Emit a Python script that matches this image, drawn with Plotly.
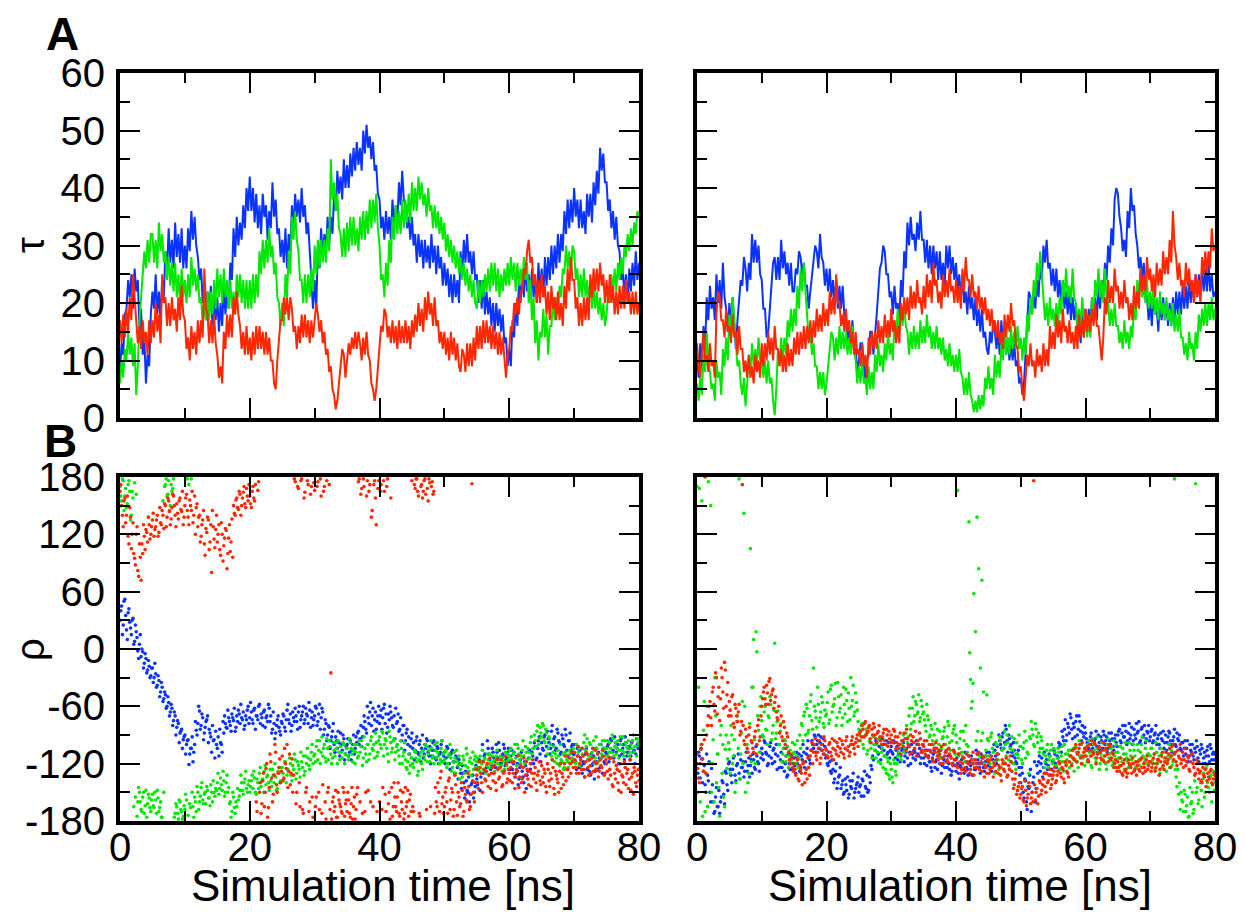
import numpy as np
import plotly.graph_objects as go

# ================= tau (top panels), sampled every 0.25 ns =================
tl_blue = [8,13,11,18,19,24,21,25,19,26,22,24,15,19,11,14,6,11,9,18,
           22,19,25,18,22,17,24,21,29,26,33,27,31,26,34,28,32,27,33,26,
           30,26,33,29,36,31,35,30,28,24,26,20,23,17,22,18,23,16,21,17,
           21,15,20,16,23,18,22,19,27,24,33,28,35,30,34,31,37,33,40,36,
           42,36,40,34,39,33,37,32,39,35,37,31,36,33,41,35,38,32,33,28,
           31,27,33,26,32,29,37,33,39,35,38,34,40,35,37,32,34,29,25,19,
           24,19,30,26,33,28,32,29,35,30,35,32,39,36,43,39,42,38,45,40,
           44,40,46,42,47,43,48,44,47,43,50,46,51,47,49,45,48,43,44,39,
           38,33,35,31,36,32,35,31,38,33,37,34,41,37,43,38,37,33,35,31,
           35,30,32,27,32,28,31,26,31,27,30,26,32,27,30,25,30,26,28,23,
           27,23,26,21,25,20,25,21,24,20,29,25,31,27,32,27,29,25,29,24,
           25,20,24,19,24,18,22,18,21,16,20,15,20,16,19,15,18,13,14,9,
           12,9,17,14,20,16,24,20,25,21,27,22,25,21,26,21,24,20,27,22,
           26,21,28,23,28,24,30,25,30,26,32,27,32,29,36,32,38,33,38,34,
           40,35,38,33,38,33,36,32,39,35,39,34,41,37,43,39,47,43,46,41,
           41,36,38,33,36,31,35,30,29,24,26,21,25,20,26,22,27,23,29,24,
           27]
tl_green = [6,10,7,12,10,15,11,14,9,13,4,9,17,22,25,29,26,31,27,32,
            32,27,31,26,34,29,32,27,29,24,28,23,27,22,27,21,25,20,26,21,
            24,20,25,21,28,23,26,22,25,20,21,16,21,17,22,17,22,18,24,19,
            26,21,25,20,26,21,24,19,24,19,22,18,25,21,25,20,24,19,24,19,
            24,19,25,20,25,21,29,25,31,26,31,27,33,28,30,25,27,21,20,16,
            20,16,25,21,29,25,35,31,36,31,29,24,24,20,25,20,25,21,26,22,
            30,25,31,26,31,27,31,27,33,29,45,38,41,36,39,33,32,28,33,28,
            34,29,35,30,35,30,33,29,35,31,36,31,36,32,38,33,38,34,39,33,
            30,24,25,21,27,23,31,27,35,31,37,32,36,32,38,33,38,34,39,34,
            41,36,40,36,42,38,41,37,39,35,40,36,37,33,37,33,36,32,35,31,
            34,29,32,28,31,27,30,26,29,25,28,24,27,23,26,22,25,21,24,20,
            19,24,20,24,21,25,22,26,22,27,23,27,22,26,21,25,22,26,23,27,
            23,28,24,27,22,27,23,26,23,28,24,27,20,24,17,21,13,17,10,15,
            14,19,14,18,11,16,16,21,17,21,18,23,21,26,25,30,26,29,25,30,
            29,24,26,21,25,21,26,21,24,20,24,19,23,19,22,18,21,17,20,16,
            18,22,20,25,22,26,22,27,24,28,25,30,28,32,29,33,30,34,32,36,
            35]
tl_red = [17,13,18,14,19,15,21,17,25,20,17,13,16,12,17,13,15,11,17,13,
          17,14,20,15,18,13,25,20,21,16,20,16,21,17,19,15,21,17,23,18,
          17,12,14,10,16,12,15,11,17,13,17,14,26,19,18,13,17,13,18,13,
          11,7,9,6,15,12,18,14,18,14,21,18,22,18,16,12,15,11,16,11,
          14,10,15,11,16,12,16,12,15,11,15,11,14,10,10,6,5,10,14,17,
          17,21,18,21,17,21,19,15,16,12,16,13,18,14,18,14,17,13,17,14,
          17,20,18,15,17,13,15,11,12,8,9,5,4,1.5,3,6,9,12,11,7,
          10,13,11,14,12,15,12,15,13,10,14,11,15,11,10,6,5,3,5,9,
          13,16,15,19,18,14,16,13,17,13,16,12,17,13,16,13,17,13,16,12,
          17,14,18,15,20,16,19,15,21,17,22,18,20,16,21,16,17,13,15,12,
          15,11,14,10,15,11,14,10,13,9,8,12,11,8,13,9,13,9,14,10,
          16,12,16,12,17,13,17,13,16,12,16,12,15,11,15,11,14,10,7,11,
          12,16,15,20,18,21,18,22,22,26,25,29,31,27,28,23,25,20,24,20,
          25,21,23,18,22,17,23,19,21,17,22,17,20,16,23,19,26,22,28,24,
          24,19,21,16,20,16,21,17,21,17,25,21,26,22,26,22,27,23,25,20,
          24,20,25,20,23,18,22,18,23,19,23,19,24,20,22,18,22,18,22,18,
          20]
tr_blue = [11,7,13,9,16,12,21,17,23,19,21,17,25,20,24,19,27,21,19,15,
           20,16,21,16,12,17,20,24,23,28,26,22,27,24,32,27,31,27,30,25,
           24,19,19,14,15,19,23,27,28,24,28,24,31,26,29,25,27,23,27,22,
           22,26,25,29,28,25,27,23,23,19,22,25,27,30,29,26,32,28,27,23,
           26,22,26,21,24,20,24,19,23,19,23,18,17,13,16,12,17,12,12,8,
           10,13,13,9,6,10,11,15,15,11,14,18,22,26,27,30,29,25,25,21,
           22,18,23,19,20,17,24,21,29,26,34,30,35,31,32,29,34,31,36,31,
           31,27,31,26,30,25,30,26,29,24,29,24,27,23,30,26,30,25,28,24,
           27,22,25,21,25,20,22,18,23,19,21,17,21,16,19,15,19,14,15,12,
           11,15,13,17,15,12,15,11,17,13,14,11,14,10,13,10,13,9,10,6,
           7,4,6,12,18,22,21,18,22,19,24,21,27,24,30,27,31,26,27,23,
           26,22,26,21,24,20,24,19,22,18,22,17,21,17,20,15,17,13,18,14,
           19,15,19,16,21,17,21,17,23,19,24,21,27,24,30,27,33,30,38,40,
           39,35,33,29,31,28,36,33,40,36,37,32,30,26,28,24,27,22,21,17,
           20,16,22,18,19,15,21,17,21,17,20,16,20,16,21,17,22,18,22,18,
           23,19,23,19,24,20,24,20,25,21,25,21,26,22,26,22,27,22,25,21,
           22]
tr_green = [6,3,7,4,11,8,15,10,8,5,6,3,10,7,8,4,12,9,14,10,
            18,14,21,16,13,9,10,6,4,7,2,6,11,8,13,9,12,9,14,10,
            11,7,10,6,10,6,7,3,0.5,5,12,9,14,10,14,11,17,14,19,15,
            19,16,23,19,26,22,27,22,18,14,15,11,13,9,9,5,8,5,8,4,
            6,9,12,15,14,10,14,11,16,12,15,12,15,11,14,11,16,12,10,6,
            9,6,10,6,7,4,9,5,8,5,11,8,13,9,11,8,13,10,15,11,
            13,10,17,14,19,15,19,16,20,16,15,11,15,12,16,12,15,12,17,13,
            16,13,18,14,16,12,15,12,16,12,14,11,14,10,12,9,13,9,11,8,
            11,8,12,8,7,4,7,4,8,4,3,1,3,1,4,1.5,4,2,7,5,
            9,5,7,4,11,7,10,7,13,10,15,11,14,11,16,12,15,12,16,12,
            14,10,14,11,18,15,21,18,24,21,27,24,29,24,21,17,20,16,21,17,
            19,16,20,16,21,18,24,21,26,21,23,20,26,21,20,16,19,16,21,17,
            18,14,17,14,21,18,24,21,26,21,24,20,26,21,20,16,19,16,20,16,
            16,13,15,12,17,13,15,12,16,14,20,17,24,21,26,21,23,20,24,19,
            22,19,23,18,21,17,22,18,20,17,21,17,19,16,20,15,18,15,19,14,
            14,11,13,10,15,12,13,10,15,12,18,15,19,16,20,16,20,17,21,17,
            19]
tr_red = [13,9,7,12,15,10,11,8,13,9,10,7,18,22,21,17,17,14,19,15,
          16,13,18,14,15,11,16,12,12,8,10,7,11,7,9,6,11,8,10,7,
          13,9,13,10,15,11,14,10,16,12,12,9,12,8,11,8,13,9,12,9,
          14,11,15,11,15,12,16,12,16,13,17,13,17,14,19,15,18,15,20,16,
          19,16,22,18,21,18,25,20,20,16,18,15,19,15,17,13,15,11,15,11,
          12,9,13,9,11,7,14,11,15,12,15,12,17,13,16,13,18,14,17,14,
          19,15,17,13,16,13,20,17,21,18,21,17,23,19,22,19,24,20,21,18,
          23,19,25,21,24,20,27,23,24,20,22,19,25,21,24,21,26,22,23,20,
          24,20,23,19,26,22,28,24,24,21,25,21,22,19,23,19,21,18,21,17,
          19,16,19,15,17,14,17,13,15,12,18,14,18,15,20,16,17,13,12,8,
          9,5,3,7,11,9,13,9,10,7,12,9,11,8,13,9,12,9,16,12,
          15,12,18,14,17,13,19,15,16,13,17,13,15,12,16,12,18,14,17,14,
          19,15,18,15,19,16,20,16,16,13,10,14,21,18,24,20,23,20,26,22,
          23,19,22,19,24,20,21,17,20,17,23,19,22,19,26,22,25,22,28,24,
          26,22,25,21,27,23,26,23,29,25,28,25,31,27,36,30,28,24,27,23,
          24,21,27,23,26,22,24,20,25,21,24,20,28,25,29,25,29,26,33,29,
          30]

# ================= rho (bottom panels) =================
# set "a": t = 0, 0.25, ... 80 ; set "b": t = 0.125, 0.375, ... 79.875
bl_blue_a = [30,45,25,52,20,38,28,15,32,8,18,-2,5,-8,-3,-15,-10,-22,-18,-28,
             -20,-30,-26,-38,-33,-45,-40,-52,-48,-60,-56,-66,-62,-75,-70,-82,-78,-88,-84,-95,
             -90,-100,-95,-110,-104,-118,-100,-85,-78,-65,-80,-72,-88,-76,-70,-84,-92,-80,-95,-86,
             -104,-112,-98,-108,-88,-78,-83,-72,-80,-68,-75,-86,-70,-64,-78,-72,-66,-80,-74,-60,
             -72,-66,-78,-62,-70,-74,-58,-68,-80,-64,-72,-76,-62,-70,-84,-78,-88,-74,-82,-90,
             -78,-70,-86,-64,-74,-68,-80,-72,-62,-76,-66,-82,-70,-60,-74,-68,-78,-64,-72,-80,
             -70,-62,-76,-58,-72,-66,-84,-78,-90,-82,-96,-86,-100,-92,-104,-98,-88,-106,-94,-110,
             -100,-112,-96,-106,-90,-104,-98,-86,-94,-102,-82,-76,-88,-72,-66,-80,-62,-74,-84,-70,
             -78,-64,-72,-58,-68,-82,-74,-66,-80,-70,-62,-76,-86,-72,-90,-80,-96,-84,-92,-102,
             -88,-98,-106,-92,-110,-96,-104,-114,-100,-94,-108,-102,-112,-98,-106,-116,-104,-110,-100,-118,
             -108,-114,-104,-120,-110,-106,-118,-112,-124,-116,-130,-122,-140,-128,-148,-134,-152,-140,-156,-144,
             -136,-126,-148,-118,-130,-110,-124,-104,-116,-122,-108,-118,-100,-114,-106,-120,-110,-104,-116,-108,
             -118,-112,-126,-108,-130,-120,-136,-116,-128,-140,-122,-132,-114,-126,-108,-120,-102,-114,-96,-110,
             -98,-106,-90,-102,-94,-110,-86,-100,-92,-104,-88,-98,-108,-94,-102,-90,-112,-96,-106,-100,
             -110,-118,-104,-124,-114,-130,-120,-110,-126,-116,-132,-122,-112,-128,-118,-108,-124,-114,-104,-120,
             -110,-100,-114,-96,-106,-92,-108,-100,-112,-94,-104,-116,-98,-108,-102,-112,-96,-106,-110,-100,
             -104]
bl_blue_b = [40,15,50,35,10,42,22,30,5,25,12,-10,15,0,-20,-5,-25,-12,-30,-20,
             -35,-15,-40,-28,-50,-35,-55,-45,-62,-50,-70,-58,-80,-66,-90,-75,-98,-86,-104,-92,
             -110,-96,-121,-104,-92,-108,-76,-90,-60,-84,-68,-95,-82,-74,-98,-88,-108,-96,-114,-100,
             -92,-84,-100,-76,-70,-82,-64,-76,-86,-72,-62,-82,-76,-68,-58,-74,-84,-70,-64,-78,
             -56,-74,-64,-84,-70,-60,-78,-72,-66,-82,-70,-58,-76,-88,-66,-94,-80,-70,-86,-76,
             -68,-82,-74,-58,-78,-86,-66,-76,-70,-84,-60,-74,-66,-78,-62,-70,-56,-82,-66,-74,
             -60,-80,-68,-84,-62,-90,-74,-96,-80,-104,-92,-78,-108,-96,-86,-112,-100,-90,-116,-102,
             -94,-108,-116,-100,-110,-92,-88,-100,-80,-92,-70,-84,-60,-78,-56,-70,-86,-66,-76,-60,
             -70,-84,-62,-78,-88,-68,-60,-72,-82,-94,-78,-68,-84,-96,-80,-106,-88,-100,-110,-94,
             -104,-116,-96,-108,-100,-118,-90,-110,-104,-96,-112,-120,-106,-96,-114,-102,-120,-108,-96,-112,
             -120,-102,-112,-126,-108,-118,-130,-114,-136,-120,-146,-130,-156,-138,-150,-160,-142,-132,-150,-122,
             -142,-116,-134,-100,-112,-128,-96,-110,-126,-104,-114,-124,-108,-98,-120,-112,-100,-122,-114,-104,
             -126,-106,-120,-134,-112,-142,-124,-108,-134,-118,-146,-128,-106,-120,-112,-98,-116,-104,-92,-118,
             -104,-92,-112,-86,-98,-104,-80,-94,-106,-84,-96,-110,-90,-100,-84,-106,-96,-88,-102,-110,
             -100,-126,-112,-106,-122,-118,-134,-104,-116,-128,-110,-120,-136,-104,-126,-114,-100,-130,-118,-108,
             -102,-118,-94,-108,-114,-98,-104,-120,-96,-110,-100,-92,-112,-104,-116,-98,-108,-120,-94,-104]
bl_green_a = [170,155,176,160,148,172,165,140,158,174,162,-160,-150,-168,-155,-172,-148,-162,-156,-170,
              -152,-166,-158,-148,-170,-160,-176,-150,172,160,176,150,165,178,-172,-165,-178,-160,-170,-175,
              -168,-158,-174,-162,178,-165,-155,-170,-150,-160,-145,-158,-152,-162,-148,-156,-142,-160,-150,-146,
              -140,-152,-135,-148,-138,-150,-132,-145,-160,-170,-155,-172,-165,-158,-148,-140,-152,-136,-146,-142,
              -150,-138,-146,-135,-152,-140,-130,-144,-136,-128,-142,-132,-148,-138,-126,-140,-134,-146,-130,-138,
              -124,-136,-118,-132,-128,-120,-138,-126,-116,-130,-122,-134,-118,-112,-128,-120,-114,-126,-108,-120,
              -110,-102,-116,-96,-108,-112,-100,-118,-104,-96,-110,-114,-106,-98,-120,-108,-102,-114,-100,-110,
              -104,-116,-98,-110,-106,-120,-100,-112,-108,-96,-114,-104,-118,-100,-110,-92,-106,-114,-98,-108,
              -92,-104,-88,-100,-96,-110,-86,-98,-104,-94,-108,-100,-112,-96,-120,-108,-116,-126,-110,-122,
              -114,-124,-108,-118,-128,-112,-120,-106,-116,-102,-110,-118,-104,-112,-100,-114,-108,-120,-104,-110,
              -116,-106,-120,-110,-114,-124,-108,-130,-118,-112,-126,-134,-116,-122,-110,-128,-114,-120,-126,-112,
              -118,-124,-112,-120,-126,-114,-122,-116,-110,-124,-118,-128,-112,-120,-116,-122,-114,-126,-118,-110,
              -112,-104,-118,-108,-114,-100,-110,-120,-106,-112,-102,-116,-108,-98,-110,-104,-96,-86,-100,-82,
              -92,-80,-98,-88,-104,-94,-112,-108,-118,-114,-106,-122,-116,-110,-124,-112,-118,-106,-120,-114,
              -108,-120,-112,-104,-116,-110,-98,-106,-94,-112,-100,-108,-96,-114,-104,-118,-100,-110,-106,-96,
              -104,-112,-98,-108,-94,-102,-110,-96,-106,-100,-92,-108,-98,-104,-112,-100,-96,-108,-102,-94,
              -100]
bl_green_b = [160,178,145,168,152,176,135,165,-165,-155,-175,-145,-160,-170,-150,-164,-176,-152,-166,-158,
              -164,-150,-172,-156,-166,-176,155,170,178,162,145,172,168,-176,-162,-172,-158,-168,-178,-164,
              -152,178,172,-166,-150,-176,-160,-144,-168,-154,-140,-162,-150,-144,-156,-164,-150,-138,-154,-148,
              -130,-146,-142,-128,-154,-140,-150,-162,-176,-150,-166,-160,-146,-154,-132,-148,-140,-128,-150,-138,
              -144,-132,-128,-150,-136,-146,-124,-138,-150,-122,-134,-140,-126,-144,-132,-120,-148,-128,-140,-124,
              -130,-118,-140,-126,-114,-132,-122,-110,-136,-118,-126,-108,-124,-132,-112,-104,-122,-116,-100,-112,
              -118,-96,-106,-120,-92,-104,-114,-94,-116,-102,-120,-98,-112,-104,-96,-116,-108,-98,-120,-104,
              -112,-94,-104,-118,-100,-108,-114,-96,-102,-122,-92,-110,-100,-116,-96,-104,-100,-88,-112,-96,
              -100,-86,-112,-94,-104,-118,-92,-108,-96,-116,-102,-106,-120,-104,-112,-98,-124,-118,-130,-114,
              -120,-106,-114,-132,-116,-108,-126,-112,-100,-118,-106,-96,-114,-120,-106,-98,-112,-116,-96,-118,
              -108,-124,-112,-100,-128,-118,-114,-106,-122,-136,-120,-112,-130,-104,-124,-118,-132,-108,-116,-124,
              -114,-128,-118,-106,-116,-130,-110,-124,-120,-112,-130,-116,-106,-124,-112,-128,-118,-108,-122,-116,
              -106,-116,-110,-100,-122,-104,-116,-112,-96,-120,-108,-104,-114,-92,-104,-90,-102,-80,-94,-88,
              -78,-96,-84,-110,-92,-100,-116,-102,-110,-120,-112,-100,-118,-126,-108,-116,-124,-110,-116,-104,
              -118,-100,-108,-122,-104,-112,-90,-102,-116,-98,-112,-104,-120,-92,-110,-100,-114,-96,-104,-112,
              -96,-108,-104,-90,-112,-98,-104,-114,-92,-106,-112,-98,-102,-96,-108,-104,-90,-102,-112,-98]
bl_red_a = [165,150,128,158,140,118,148,105,132,95,120,82,110,72,100,118,125,112,130,120,
            135,118,128,140,122,132,145,126,150,138,155,130,148,160,140,152,136,158,144,130,
            150,162,138,156,145,132,160,148,128,140,118,135,110,126,138,104,130,145,115,125,
            112,130,98,120,108,126,84,116,102,136,150,140,158,146,162,150,164,152,168,155,
            160,148,170,155,-160,166,-150,-172,-138,-165,-125,-176,-145,-118,-160,-132,-108,-150,-124,-140,
            -112,-135,-120,-100,-128,-142,-115,-132,175,-150,168,-165,178,-172,164,-145,172,-160,170,-176,
            166,-155,175,-168,160,-142,170,-178,-150,172,-25,-160,-170,-148,-176,-158,-165,-172,-150,-162,
            -170,-158,-176,-145,-165,-178,-152,175,-160,168,178,-170,160,-148,172,138,-165,176,130,168,
            -160,172,-145,165,-170,178,-150,158,-175,-140,-165,-155,-172,-148,-168,-178,-145,-160,-175,-152,
            176,-170,168,178,160,-175,172,165,178,-168,155,174,170,162,-172,-160,-140,-170,-128,-155,
            -165,-145,-172,-135,-158,-150,-168,-142,-174,-155,-162,-148,-170,-152,-160,-144,-165,173,-150,-140,
            -132,-146,-124,-140,-118,-136,-128,-144,-114,-130,-138,-122,-148,-126,-134,-116,-142,-128,-120,-136,
            -130,-124,-140,-118,-134,-128,-145,-122,-136,-114,-132,-126,-142,-120,-130,-136,-124,-148,-128,-138,
            -122,-140,-130,-150,-126,-144,-136,-124,-152,-132,-140,-128,-146,-134,-120,-138,-126,-114,-130,-118,
            -108,-124,-112,-130,-116,-104,-126,-118,-110,-132,-122,-114,-128,-106,-120,-134,-116,-124,-112,-130,
            -120,-136,-126,-114,-144,-130,-122,-140,-128,-150,-134,-118,-142,-126,-136,-148,-130,-124,-140,-132,
            -138]
bl_red_b = [172,140,155,132,160,110,138,120,100,88,128,76,96,110,130,104,122,138,115,128,
            142,125,135,118,148,130,140,152,128,158,144,136,162,150,128,142,155,146,165,138,
            158,145,130,150,165,140,120,152,138,112,130,145,98,122,135,112,80,128,106,140,
            120,104,132,92,116,124,100,130,112,96,142,156,148,165,140,158,170,148,160,172,
            152,165,158,172,-170,175,-140,-162,-130,-150,-120,-166,-110,-135,-152,-100,-142,-130,-115,-128,
            -138,-104,-125,-145,-110,-130,-150,178,-162,170,-140,176,-168,158,-150,176,-170,162,-155,174,
            -165,170,-150,178,-172,165,-160,176,-145,-168,-178,-155,-165,-176,-150,-162,-170,-145,-175,-158,
            -150,-172,-162,-178,-155,-168,-145,178,162,-172,170,-150,176,165,-160,145,172,158,-170,176,
            165,-168,176,-152,170,-162,-178,-145,-165,-155,-170,-140,-175,-160,-150,-172,-165,-148,-158,-170,
            -165,172,178,165,-172,170,158,176,162,168,178,-165,175,165,-145,-165,-150,-135,-162,-172,
            -150,-160,-138,-168,-146,-175,-132,-160,-150,-165,-140,-175,-145,-158,-130,-168,-152,-138,-160,-126,
            -140,-118,-130,-150,-126,-138,-120,-132,-146,-124,-130,-140,-116,-136,-124,-144,-130,-112,-140,-126,
            -138,-118,-130,-146,-126,-112,-134,-140,-124,-150,-118,-136,-128,-144,-116,-130,-140,-132,-118,-142,
            -134,-126,-144,-120,-138,-130,-116,-146,-128,-136,-150,-120,-130,-142,-112,-126,-134,-120,-108,-124,
            -116,-130,-102,-120,-126,-112,-134,-108,-124,-116,-130,-104,-118,-126,-110,-128,-122,-106,-132,-116,
            -128,-114,-132,-142,-118,-136,-126,-148,-120,-132,-140,-124,-130,-146,-116,-134,-152,-128,-144,-126]
br_blue_a = [-120,-108,-135,-115,-128,-142,-110,-138,-150,-125,-160,-170,-145,-165,-172,-155,-140,-162,-130,-148,
             -118,-132,-126,-112,-138,-120,-130,-116,-124,-134,-118,-128,-114,-122,-130,-116,-126,-112,-120,-108,
             -104,-116,-98,-110,-120,-102,-114,-106,-118,-100,-112,-124,-108,-118,-128,-112,-132,-120,-116,-126,
             -114,-130,-120,-110,-124,-116,-108,-118,-104,-112,-120,-96,-104,-92,-100,-90,-98,-106,-94,-102,
             -112,-122,-118,-130,-126,-136,-120,-140,-132,-146,-138,-150,-142,-134,-152,-144,-138,-156,-146,-140,
             -150,-142,-136,-154,-144,-132,-148,-140,-126,-116,-106,-98,-110,-94,-104,-100,-112,-96,-108,-114,
             -102,-110,-98,-106,-116,-100,-112,-104,-118,-108,-114,-102,-120,-110,-106,-116,-100,-112,-120,-108,
             -114,-106,-122,-112,-118,-128,-110,-124,-116,-108,-120,-130,-114,-124,-118,-112,-126,-132,-120,-116,
             -128,-120,-136,-124,-114,-130,-118,-126,-112,-122,-132,-116,-126,-110,-120,-130,-114,-124,-118,-108,
             -122,-112,-128,-116,-106,-120,-110,-96,-104,-88,-98,-84,-108,-94,-100,-112,-106,-118,-110,-124,
             -140,-130,-156,-138,-168,-146,-126,-150,-134,-160,-122,-118,-128,-114,-124,-130,-116,-122,-112,-126,
             -118,-110,-124,-114,-102,-108,-92,-84,-96,-78,-88,-72,-94,-82,-76,-90,-70,-86,-80,-92,
             -88,-98,-104,-92,-100,-108,-94,-102,-90,-106,-96,-86,-100,-92,-104,-96,-88,-102,-94,-98,
             -90,-84,-98,-80,-92,-86,-96,-78,-90,-100,-84,-94,-88,-76,-96,-82,-90,-98,-86,-80,
             -92,-84,-96,-88,-100,-90,-104,-94,-86,-98,-106,-92,-88,-100,-96,-84,-102,-94,-90,-106,
             -98,-104,-110,-96,-112,-106,-100,-116,-108,-102,-118,-110,-104,-114,-120,-106,-112,-100,-116,-108,
             -110]
br_blue_b = [-130,-112,-104,-140,-122,-150,-132,-118,-160,-142,-172,-155,-165,-148,-160,-138,-152,-128,-142,-120,
             -126,-140,-114,-132,-122,-110,-136,-124,-118,-128,-108,-122,-134,-116,-110,-124,-102,-118,-128,-114,
             -110,-96,-108,-122,-112,-98,-120,-104,-110,-126,-100,-116,-124,-104,-120,-134,-110,-126,-112,-120,
             -122,-108,-114,-128,-112,-100,-124,-110,-96,-116,-106,-100,-90,-108,-96,-104,-92,-100,-110,-114,
             -120,-108,-128,-116,-140,-128,-146,-134,-124,-142,-152,-136,-148,-156,-138,-146,-130,-150,-142,-134,
             -144,-154,-138,-128,-146,-150,-134,-122,-112,-100,-96,-108,-102,-116,-94,-106,-100,-110,-98,-106,
             -108,-96,-114,-102,-110,-118,-106,-98,-112,-104,-122,-108,-100,-114,-108,-96,-110,-104,-114,-100,
             -120,-112,-106,-118,-124,-114,-106,-118,-126,-112,-106,-122,-116,-108,-124,-120,-112,-128,-106,-122,
             -114,-130,-122,-116,-126,-108,-124,-132,-118,-112,-120,-126,-106,-116,-124,-110,-120,-128,-112,-118,
             -108,-124,-116,-100,-112,-102,-90,-100,-92,-104,-80,-96,-90,-102,-108,-98,-114,-120,-106,-132,
             -124,-150,-136,-160,-144,-132,-170,-140,-118,-146,-130,-112,-120,-134,-108,-120,-126,-110,-132,-118,
             -106,-120,-112,-98,-100,-86,-96,-74,-90,-82,-68,-84,-78,-92,-70,-84,-76,-96,-88,-82,
             -94,-106,-96,-88,-104,-96,-86,-108,-98,-92,-104,-90,-96,-108,-88,-100,-94,-106,-90,-102,
             -86,-96,-88,-92,-80,-100,-88,-94,-82,-96,-90,-78,-86,-98,-84,-92,-80,-94,-88,-96,
             -86,-98,-90,-80,-94,-100,-88,-96,-104,-90,-98,-86,-96,-108,-92,-100,-88,-96,-104,-98,
             -112,-96,-104,-118,-100,-108,-112,-104,-96,-114,-106,-100,-120,-108,-112,-102,-118,-104,-110,-116]
br_green_a = [170,-40,-160,155,-85,-170,-60,175,-120,-150,-95,-30,-140,-110,-175,-80,-100,-165,-90,-115,
              -105,-80,-120,-95,-140,-70,178,-110,-55,142,-150,-100,-130,105,-40,10,-120,-3,-85,-60,
              -75,-92,-60,-85,-70,-50,-95,-80,6,-88,-65,-100,-78,-110,-95,-118,-102,-112,-120,-98,
              -108,-120,-96,-115,-104,-80,-70,-90,-62,-85,-55,-75,-20,-65,-82,-58,-72,-50,-78,-64,
              -68,-45,-74,-38,-60,-52,-80,-35,-66,-48,-72,-58,-42,-76,-62,-30,-54,-70,-46,-64,
              -84,-96,-78,-104,-90,-110,-86,-98,-114,-92,-106,-100,-118,-96,-108,-124,-112,-130,-118,-136,
              -126,-140,-120,-132,-112,-104,-116,-96,-108,-88,-98,-70,-84,-62,-76,-55,-68,-48,-72,-60,
              -66,-80,-58,-74,-90,-84,-100,-78,-96,-110,-86,-104,-92,-82,-108,-76,-98,-114,-88,-80,
              -90,166,-104,-86,-112,-96,-80,-108,133,-32,-55,58,18,138,84,-20,72,-45,-112,-48,
              -96,-120,-88,-108,-130,-100,-116,-92,-124,-104,-86,-112,-98,-80,-118,-106,-94,-126,-110,-90,
              -102,-120,-98,-114,-108,-130,-94,-84,-100,-78,-92,-88,-104,-96,-110,-118,-106,-124,-112,-100,
              -116,-108,-122,-104,-126,-112,-118,-100,-120,-110,-124,-106,-114,-128,-102,-118,-96,-112,-120,-108,
              -104,-118,-96,-112,-124,-100,-114,-92,-108,-120,-98,-116,-106,-126,-94,-110,-102,-118,-112,-100,
              -108,-122,-114,-104,-126,-110,-118,-98,-112,-120,-106,-124,-100,-116,-108,-92,-114,-104,-120,-110,
              -112,-104,-120,-126,-108,-116,-130,-110,-122,-118,-128,-112,-124,-106,-118,178,-134,-126,-140,-150,
              -160,-148,-170,-155,-175,-162,-150,-168,173,-145,-158,-140,-165,-130,-150,-122,-145,-135,-160,-128,
              -140]
br_green_b = [-150,168,-100,-175,-55,-130,-165,-80,150,-120,-160,-70,-110,-145,-90,-130,-155,-105,-125,-98,
              -130,-90,-112,-150,-76,-104,-136,-88,-120,-60,-100,-140,-78,-118,-40,-95,18,-70,-108,-50,
              -90,-66,-84,-100,-72,-58,-88,-64,-94,-76,-100,-86,-118,-104,-96,-112,-124,-106,-116,-110,
              -100,-112,-124,-90,-78,-96,-66,-58,-88,-70,-48,-84,-60,-72,-40,-76,-66,-56,-82,-70,
              -56,-78,-42,-66,-58,-36,-72,-50,-62,-80,-40,-68,-54,-46,-74,-60,-38,-66,-56,-76,
              -90,-80,-100,-92,-84,-106,-96,-104,-90,-100,-114,-108,-94,-120,-104,-112,-126,-114,-132,-120,
              -134,-116,-128,-120,-108,-112,-100,-90,-104,-80,-92,-62,-78,-50,-70,-58,-66,-76,-54,-68,
              -74,-86,-70,-92,-80,-96,-90,-104,-84,-100,-114,-94,-86,-100,-92,-80,-106,-96,-84,-110,
              -98,-112,-94,-108,-86,-118,-100,-102,-4,-62,-36,-116,-96,-86,-112,-96,-88,-120,-106,-94,
              -112,-92,-104,-118,-98,-110,-126,-96,-106,-118,-100,-90,-116,-104,-92,-120,-110,-98,-114,-102,
              -116,-104,-86,-96,-110,-92,-76,-90,-102,-84,-98,-108,-92,-104,-124,-112,-100,-116,-106,-120,
              -104,-122,-114,-108,-118,-102,-128,-110,-116,-106,-112,-120,-104,-116,-108,-124,-112,-100,-114,-122,
              -112,-100,-108,-122,-94,-106,-118,-104,-126,-110,-98,-112,-120,-100,-114,-104,-122,-96,-108,-116,
              -114,-102,-118,-110,-98,-114,-124,-106,-116,-100,-112,-118,-106,-122,-100,-112,-118,-96,-110,-118,
              -104,-116,-110,-98,-120,-112,-104,-124,-114,-108,-118,-100,-114,-122,-110,-126,-144,-152,-168,-158,
              -170,-152,-164,-176,-145,-160,-172,-138,-150,-162,-128,-148,-136,-155,-125,-140,-150,-132,-142,-148]
br_red_a = [-110,-135,-120,-100,-128,180,-90,-70,-55,-80,-40,-65,-30,-50,-75,-20,-45,-14,-60,-35,
            -55,-70,-48,-82,-62,-76,-58,-86,172,-96,-84,-104,-90,-112,-98,-108,-86,-100,-74,-92,
            -60,-45,-52,-38,-58,-31,-48,-42,-56,-66,-74,-88,-70,-96,-82,-104,-92,-116,-110,-124,
            -120,-132,-116,-138,-126,-142,-118,-130,-136,-124,-112,-98,-108,-94,-116,-104,-120,-100,-110,-96,
            -106,-114,-98,-112,-104,-96,-110,-102,-94,-108,-100,-114,-96,-106,-112,-100,-92,-104,-98,-90,
            -96,-86,-80,-92,-76,-88,-82,-94,-84,-78,-90,-98,-86,-92,-100,-88,-96,-84,-102,-94,
            -90,-98,-86,-104,-92,-100,-110,-96,-88,-106,-94,-102,-90,-108,-98,-86,-112,-100,-94,-106,
            -102,-110,-96,-114,-106,-100,-118,-108,-104,-116,-110,-102,-120,-112,-106,-118,-110,-114,-122,-108,
            -116,-124,-110,-130,-120,-114,-128,-118,-112,-126,-120,-132,-116,-124,-108,-120,-128,-114,-122,-130,
            -118,-126,-112,-134,-122,-116,-130,-124,-138,-120,-128,-114,-132,-126,-118,-136,-142,-130,-148,-140,
            -152,-144,-160,-148,-156,-140,-162,-150,176,-158,-146,-154,-140,-148,-136,-144,-130,-138,-126,-142,
            -132,-124,-138,-128,-120,-134,-126,-140,-122,-130,-118,-112,-106,-116,-100,-110,-104,-114,-98,-108,
            -112,-102,-118,-106,-96,-110,-100,-114,-104,-108,-116,-98,-112,-106,-118,-102,-114,-110,-120,-124,
            -118,-128,-122,-132,-116,-126,-130,-120,-124,-114,-128,-118,-122,-126,-116,-124,-120,-128,-112,-122,
            -118,-124,-114,-128,-120,-116,-126,-112,-122,-118,-108,-116,-104,-112,-100,-110,-118,-106,-114,-120,
            -108,-116,-122,-112,-126,-118,-110,-124,-130,-120,-136,-128,-140,-132,-126,-138,-134,-128,-140,-136,
            -132]
br_red_b = [-125,-140,-105,-115,-95,-130,-80,-60,-72,-45,-58,-25,-68,-40,-52,-30,-62,-22,-48,-70,
            -64,-50,-78,-58,-70,-66,-90,-76,-80,-100,-92,-108,-82,-96,-104,-92,-110,-80,-96,-70,
            -52,-40,-58,-46,-34,-54,-44,-62,-50,-72,-60,-80,-92,-76,-100,-88,-108,-120,-114,-128,
            -126,-114,-136,-122,-130,-120,-140,-126,-114,-132,-106,-120,-100,-112,-108,-96,-114,-106,-92,-104,
            -112,-100,-108,-94,-116,-106,-98,-112,-104,-96,-110,-104,-92,-102,-108,-96,-100,-110,-94,-102,
            -88,-92,-84,-78,-90,-86,-80,-98,-90,-82,-94,-88,-80,-96,-92,-84,-100,-90,-86,-98,
            -96,-84,-92,-98,-104,-88,-96,-102,-94,-84,-100,-110,-96,-92,-104,-112,-96,-88,-108,-100,
            -96,-106,-112,-100,-108,-116,-104,-98,-112,-106,-120,-114,-100,-108,-116,-104,-112,-120,-106,-116,
            -122,-110,-118,-126,-114,-124,-110,-120,-130,-116,-108,-124,-120,-110,-126,-118,-112,-134,-124,-116,
            -130,-116,-124,-120,-128,-110,-122,-132,-116,-126,-120,-134,-122,-112,-128,-146,-136,-152,-144,-156,
            -146,-158,-138,-164,-152,-144,-156,-160,-142,-150,-162,-138,-152,-142,-130,-150,-140,-132,-146,-136,
            -128,-140,-132,-118,-130,-124,-136,-118,-128,-134,-112,-122,-114,-104,-118,-108,-100,-120,-112,-104,
            -106,-116,-100,-112,-108,-98,-120,-110,-102,-114,-106,-118,-104,-110,-100,-116,-108,-124,-116,-128,
            -124,-114,-130,-120,-128,-134,-116,-122,-130,-120,-126,-132,-118,-128,-114,-130,-124,-116,-126,-118,
            -128,-120,-110,-124,-116,-132,-118,-108,-126,-114,-120,-110,-124,-102,-116,-108,-122,-112,-100,-116,
            -124,-104,-118,-114,-128,-110,-120,-132,-116,-126,-130,-138,-124,-134,-144,-130,-136,-126,-142,-130]

# ================= axes / ticks =================
x_ticks = [0, 20, 40, 60, 80]
x_minor = [10, 30, 50, 70]
tau_ticks = [0, 10, 20, 30, 40, 50, 60]
tau_minor = [5, 15, 25, 35, 45, 55]
rho_ticks = [-180, -120, -60, 0, 60, 120, 180]
rho_minor = [-150, -90, -30, 30, 90, 150]
rho_labels = ["-180", "-120", "-60", "0", "60", "120", "180"]

BLUE = "#0b33ff"
GREEN = "#00e800"
RED = "#ff2600"
FONT = "Liberation Sans, Arial, Helvetica, sans-serif"


def grid_a(v):
    return np.linspace(0, 80, len(v))


def grid_b(v):
    return np.linspace(0.125, 79.875, len(v))


fig = go.Figure()

for ys, col in [(tl_blue, BLUE), (tl_green, GREEN), (tl_red, RED)]:
    fig.add_trace(go.Scatter(x=grid_a(ys), y=ys, mode="lines", line=dict(color=col, width=2),
                             xaxis="x", yaxis="y", showlegend=False, hoverinfo="skip"))
for ys, col in [(tr_blue, BLUE), (tr_green, GREEN), (tr_red, RED)]:
    fig.add_trace(go.Scatter(x=grid_a(ys), y=ys, mode="lines", line=dict(color=col, width=2),
                             xaxis="x2", yaxis="y2", showlegend=False, hoverinfo="skip"))

for (ya, yb, col) in [(bl_blue_a, bl_blue_b, BLUE), (bl_green_a, bl_green_b, GREEN), (bl_red_a, bl_red_b, RED)]:
    xs = np.concatenate([grid_a(ya), grid_b(yb)])
    ys = list(ya) + list(yb)
    fig.add_trace(go.Scatter(x=xs, y=ys, mode="markers", marker=dict(color=col, size=3.6),
                             xaxis="x3", yaxis="y3", showlegend=False, hoverinfo="skip"))
for (ya, yb, col) in [(br_blue_a, br_blue_b, BLUE), (br_green_a, br_green_b, GREEN), (br_red_a, br_red_b, RED)]:
    xs = np.concatenate([grid_a(ya), grid_b(yb)])
    ys = list(ya) + list(yb)
    fig.add_trace(go.Scatter(x=xs, y=ys, mode="markers", marker=dict(color=col, size=3.6),
                             xaxis="x4", yaxis="y4", showlegend=False, hoverinfo="skip"))


def axis(domain, rng, tickvals, minorvals, anchor, labels=True, ticktext=None, standoff=0):
    d = dict(domain=domain, range=rng, showline=True, linewidth=4, linecolor="black",
             mirror="ticks", ticks="inside", ticklen=20, tickwidth=2, tickcolor="black",
             showgrid=False, zeroline=False, tickmode="array", tickvals=tickvals,
             showticklabels=labels, ticklabelstandoff=standoff, automargin=False,
             tickfont=dict(family=FONT, size=40, color="black"),
             minor=dict(ticks="inside", ticklen=10, tickwidth=2, tickcolor="black",
                        tickvals=minorvals, showgrid=False),
             anchor=anchor)
    if ticktext is not None:
        d["ticktext"] = ticktext
    return d


XL = [120 / 1245, 639 / 1245]
XR = [697 / 1245, 1215 / 1245]
YT = [1 - 418 / 922, 1 - 73 / 922]
YB = [1 - 821 / 922, 1 - 477 / 922]

fig.update_layout(
    width=1245, height=922, autosize=False,
    margin=dict(l=0, r=0, t=0, b=0, pad=0, autoexpand=False),
    paper_bgcolor="white", plot_bgcolor="white", showlegend=False,
    xaxis=axis(XL, [0, 80], x_ticks, x_minor, "y", labels=False),
    yaxis=axis(YT, [0, 60], tau_ticks, tau_minor, "x", labels=True, standoff=3),
    xaxis2=axis(XR, [0, 80], x_ticks, x_minor, "y2", labels=False),
    yaxis2=axis(YT, [0, 60], tau_ticks, tau_minor, "x2", labels=False),
    xaxis3=axis(XL, [0, 80], x_ticks, x_minor, "y3", labels=True, standoff=-12),
    yaxis3=axis(YB, [-180, 180], rho_ticks, rho_minor, "x3", labels=True, ticktext=rho_labels, standoff=3),
    xaxis4=axis(XR, [0, 80], x_ticks, x_minor, "y4", labels=True, standoff=-12),
    yaxis4=axis(YB, [-180, 180], rho_ticks, rho_minor, "x4", labels=False, ticktext=rho_labels),
)

ann = [
    dict(text="<b>A</b>", x=62 / 1245, y=1 - 34 / 922, size=46),
    dict(text="<b>B</b>", x=60 / 1245, y=1 - 441 / 922, size=46),
    dict(text="Simulation time [ns]", x=383 / 1245, y=1 - 885 / 922, size=44),
    dict(text="Simulation time [ns]", x=960 / 1245, y=1 - 885 / 922, size=44),
]
for a in ann:
    fig.add_annotation(text=a["text"], x=a["x"], y=a["y"], xref="paper", yref="paper",
                       xanchor="center", yanchor="middle", showarrow=False,
                       font=dict(family=FONT, size=a["size"], color="black"))
for txt, yy in [("τ", 245), ("ρ", 650)]:
    fig.add_annotation(text=txt, x=30 / 1245, y=1 - yy / 922, xref="paper", yref="paper",
                       xanchor="center", yanchor="middle", showarrow=False, textangle=-90,
                       font=dict(family=FONT, size=40, color="black"))

fig.write_html("out.html")
